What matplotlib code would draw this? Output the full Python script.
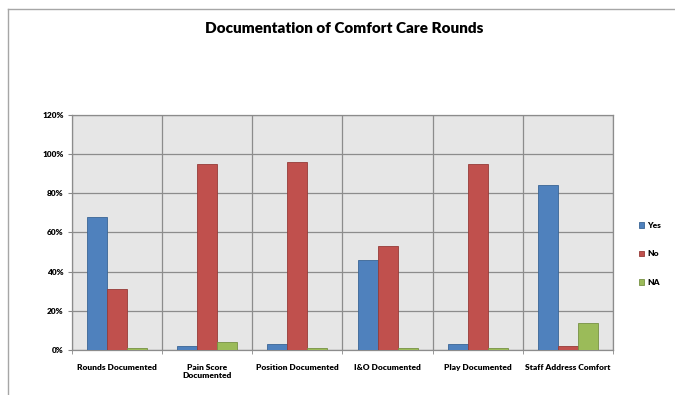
import matplotlib
matplotlib.use("Agg")
from matplotlib import pyplot as plt
from matplotlib.lines import Line2D
import numpy as np

categories = ["Rounds Documented", "Pain Score\nDocumented", "Position Documented",
              "I&O Documented", "Play Documented", "Staff Address Comfort"]
yes = [68, 2, 3, 46, 3, 84]
no = [31, 95, 96, 53, 95, 2]
na = [1, 4, 1, 1, 1, 14]

series = [("Yes", yes, "#4F81BD", "#3A6595"),
          ("No", no, "#C0504D", "#963B38"),
          ("NA", na, "#9BBB59", "#779144")]

plt.rcParams['font.family'] = ['Lato', 'DejaVu Sans']

fig = plt.figure(figsize=(6.75, 3.95), dpi=100)
ax = fig.add_axes([0.1067, 0.1139, 0.8013, 0.595])
ax.set_facecolor("#E6E6E6")

x = np.arange(len(categories))
w = 0.222
for i, (name, vals, col, edge) in enumerate(series):
    ax.bar(x + (i - 1) * w, vals, w, color=col, edgecolor=edge, linewidth=0.6,
           label=name, zorder=3)

ax.set_xlim(-0.5, len(categories) - 0.5)
ax.set_ylim(0, 120)
ax.set_yticks(range(0, 121, 20))
ax.set_yticklabels([f"{v}%" for v in range(0, 121, 20)], fontsize=6, fontweight="heavy")
ax.set_xticks(x)
ax.set_xticklabels(categories, fontsize=6, fontweight="heavy")
ax.set_xticks(np.arange(-0.5, len(categories), 1), minor=True)
ax.tick_params(axis="x", which="major", length=0, pad=10)
ax.tick_params(axis="x", which="minor", length=3, color="#888888")
ax.tick_params(axis="y", length=3, color="#888888", pad=3)

ax.grid(axis="y", color="#8C8C8C", linewidth=0.9, zorder=0)
ax.grid(axis="x", which="minor", color="#8C8C8C", linewidth=0.9, zorder=0)
for side in ["top", "right", "bottom", "left"]:
    ax.spines[side].set_color("#8C8C8C")
    ax.spines[side].set_linewidth(0.9)

fig.suptitle("Documentation of Comfort Care Rounds", x=0.51, y=0.945,
             fontsize=11, fontweight="heavy")

fig.legend(loc="center left", bbox_to_anchor=(0.935, 0.357), frameon=False,
           handlelength=0.7, handleheight=0.7, handletextpad=0.3,
           labelspacing=2.6, prop={"size": 6, "weight": "heavy"})

# thin frame around the chart area
fig.add_artist(Line2D([8 / 675, 1], [1 - 9 / 395, 1 - 9 / 395], color="#A6A6A6", linewidth=1))
fig.add_artist(Line2D([8 / 675, 8 / 675], [0, 1 - 9 / 395], color="#A6A6A6", linewidth=1))

fig.savefig("out.png", dpi=100, facecolor="white")
